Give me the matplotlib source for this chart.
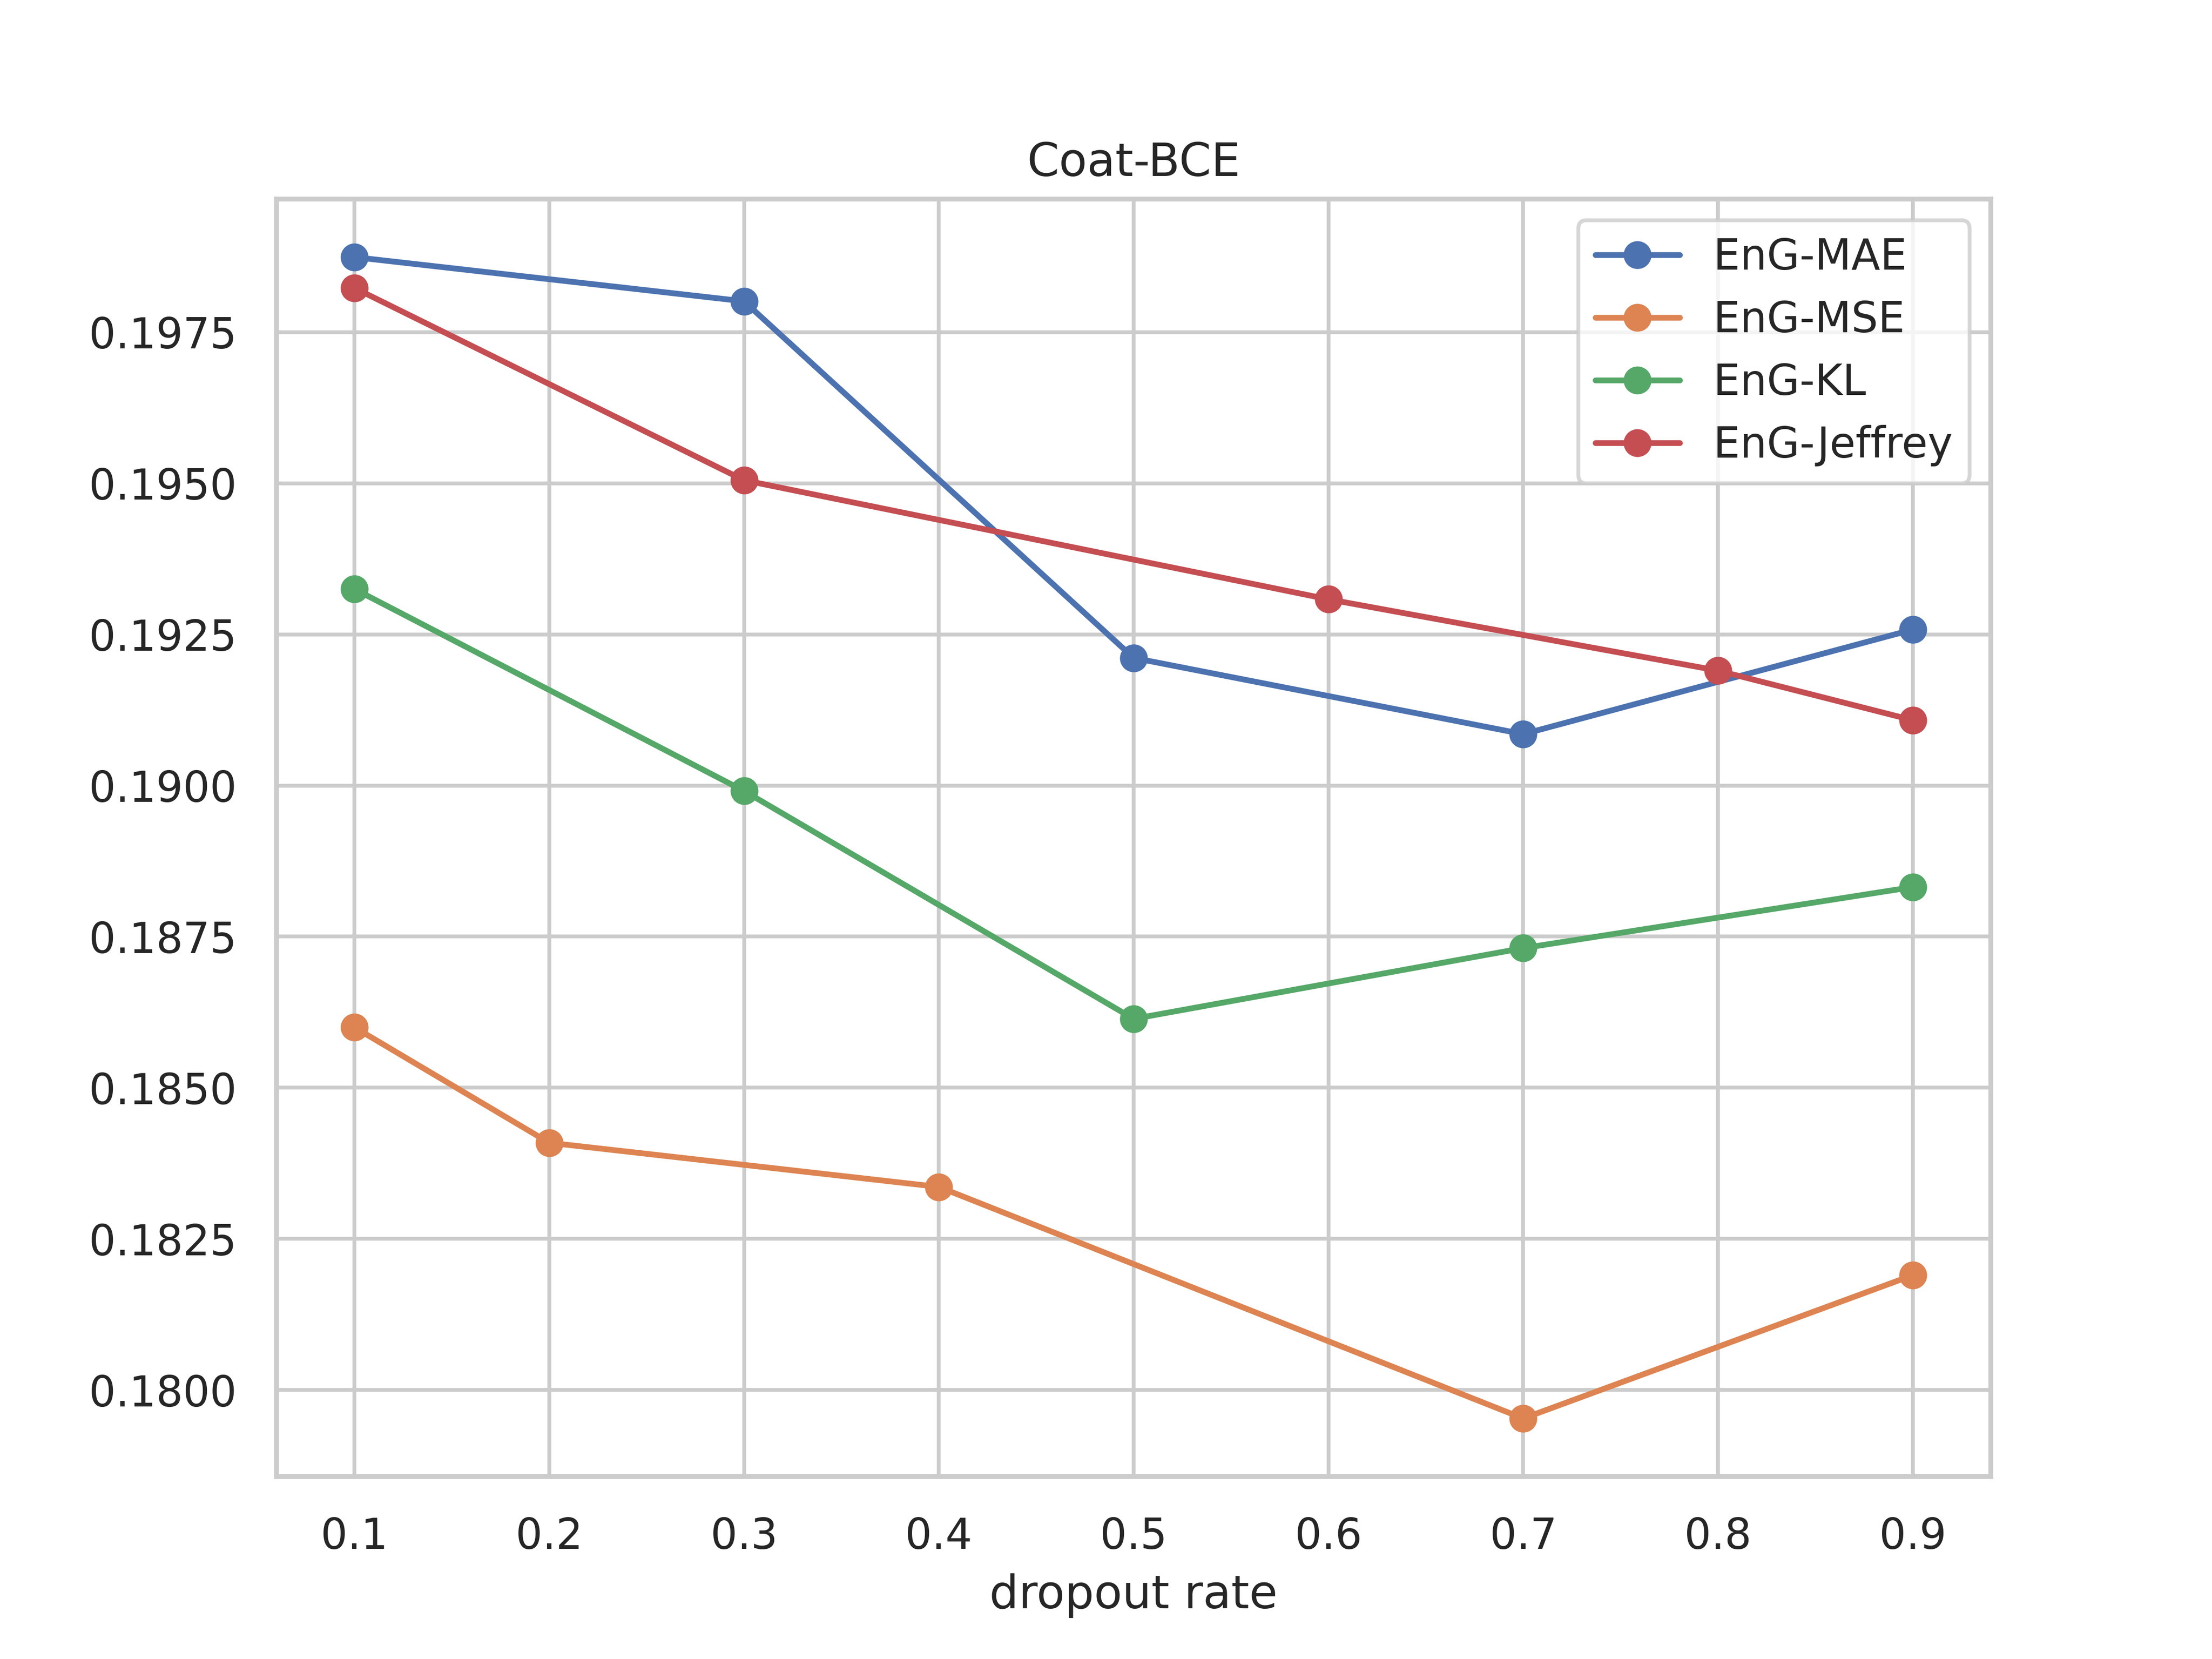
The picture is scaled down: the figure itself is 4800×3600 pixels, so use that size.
import matplotlib
matplotlib.use("Agg")
import matplotlib.pyplot as plt
import seaborn as sns

# dropout rates and metric values
mae_x = [0.1, 0.3, 0.5, 0.7, 0.9]
mae_y = [0.19874, 0.19801, 0.19211, 0.19085, 0.19258]

mse_x = [0.1, 0.2, 0.4, 0.7, 0.9]
mse_y = [0.18600, 0.18409, 0.18336, 0.17953, 0.18190]

kl_x = [0.1, 0.3, 0.5, 0.7, 0.9]
kl_y = [0.19325, 0.18991, 0.18614, 0.18731, 0.18832]

jef_x = [0.1, 0.3, 0.6, 0.8, 0.9]
jef_y = [0.19823, 0.19505, 0.19308, 0.19190, 0.19108]

xticks = [0.1, 0.2, 0.3, 0.4, 0.5, 0.6, 0.7, 0.8, 0.9]

sns.set_theme(context="paper", style="whitegrid")
plt.rcParams["axes.titlepad"] = 4.8
plt.rcParams["axes.labelpad"] = 3.2

fig, ax = plt.subplots(figsize=(6.4, 4.8))
ax.plot(mae_x, mae_y, marker="o", label="EnG-MAE")
ax.plot(mse_x, mse_y, marker="o", label="EnG-MSE")
ax.plot(kl_x, kl_y, marker="o", label="EnG-KL")
ax.plot(jef_x, jef_y, marker="o", label="EnG-Jeffrey")

ax.set_xticks(xticks)
ax.set_title("Coat-BCE")
ax.set_xlabel("dropout rate")
ax.legend(loc="upper right")

fig.savefig("out.png", dpi=750)
